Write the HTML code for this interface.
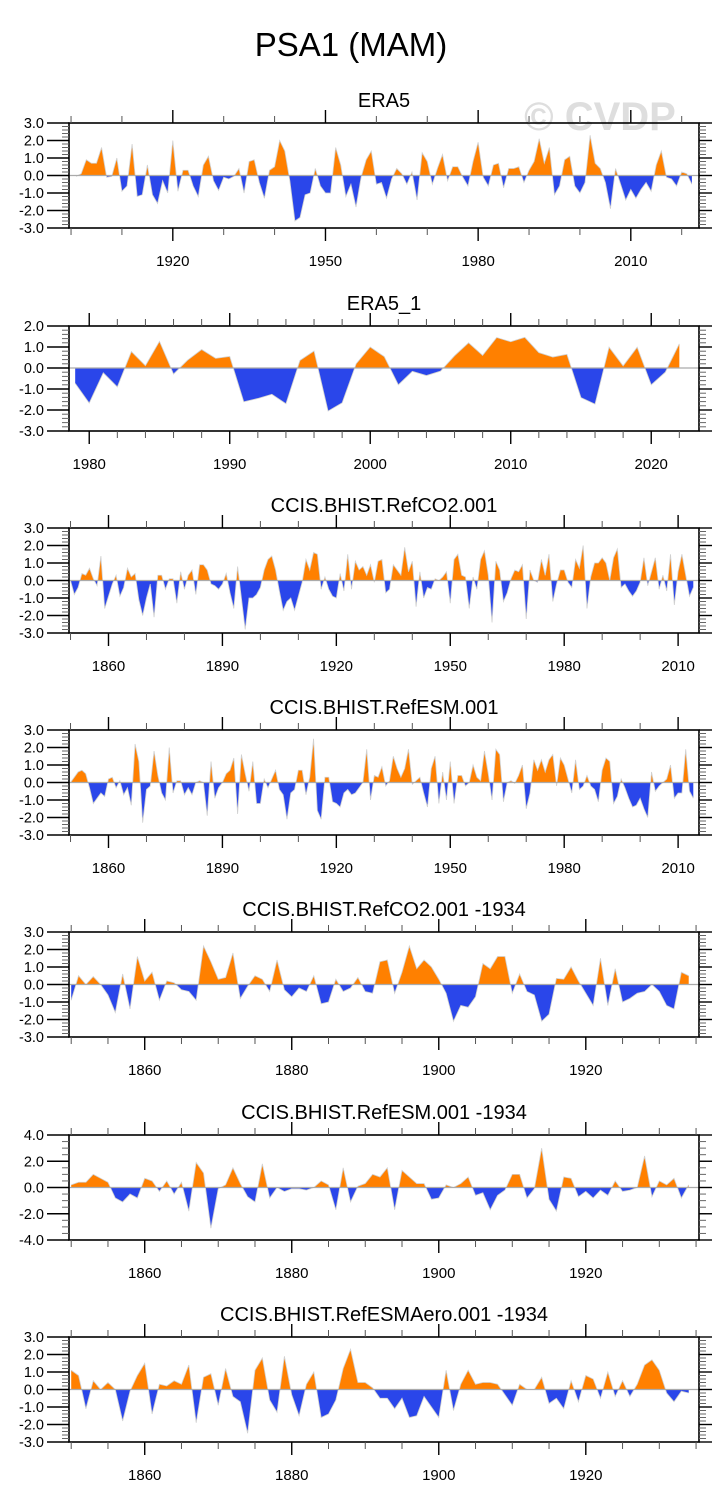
<!DOCTYPE html>
<html><head><meta charset="utf-8">
<style>
html,body{margin:0;padding:0;background:#fff;}
svg{display:block;font-family:"Liberation Sans",Arial,sans-serif;}
</style></head>
<body>
<svg id="chart" width="728" height="1510" viewBox="0 0 728 1510" xmlns="http://www.w3.org/2000/svg">
<text x="351" y="56" text-anchor="middle" font-size="33" fill="#000">PSA1 (MAM)</text>
<text x="600" y="130" text-anchor="middle" font-size="40" font-weight="bold" fill="#dedede">© CVDP</text>
</svg>
<script>
// ---- Panel 1: ERA5 (1901-2022)
const era5Start = 1901;
const era5Values = [-0.05,0.1,0.9,0.7,0.7,1.6,-0.1,-0.05,1.0,-0.9,-0.6,1.8,-1.2,-1.1,0.6,-1.1,-1.6,-0.3,-1.0,2.0,
-0.9,0.3,0.3,-0.6,-1.2,0.6,1.1,-0.3,-0.85,-0.1,-0.2,-0.05,0.4,-1.0,0.8,0.9,-0.4,-1.3,0.3,0.5,
2.0,1.4,-0.3,-2.6,-2.4,-1.1,-1.0,0.4,-0.6,-1.0,-1.0,1.6,0.6,-1.2,-0.5,-1.8,-0.1,0.9,1.4,-0.5,
-0.4,-1.3,-0.2,0.4,0.1,-0.5,0.2,-1.4,1.3,0.8,-0.5,0.4,1.2,-0.3,0.5,0.5,-0.1,-0.6,0.8,1.9,
-0.1,-0.6,0.6,0.7,-0.7,0.4,0.4,0.5,-0.4,0.3,0.8,2.1,0.7,1.6,-1.1,-0.6,0.9,1.1,-0.6,-1.0,
-0.4,2.3,0.7,0.4,-0.4,-1.9,0.4,-0.5,-1.4,-0.8,-1.3,-0.8,-0.4,-0.9,0.6,1.4,-0.1,-0.2,-0.6,0.2,
0.1,-0.5];
const era5XLabels = [1920,1950,1980,2010];
const era5YLabels = [-3,-2,-1,0,1,2,3];

// ---- Panel 2: ERA5_1 (1979-2022)
const era51Start = 1979;
const era51Values = [-0.73,-1.67,-0.23,-0.9,0.78,0.11,1.27,-0.29,0.37,0.88,0.46,0.55,-1.61,-1.45,-1.25,-1.7,0.36,0.81,-2.05,-1.66,
0.2,1.0,0.54,-0.8,-0.16,-0.36,-0.15,0.58,1.2,0.6,1.45,1.25,1.46,0.73,0.52,0.65,-1.41,-1.72,0.99,0.1,
0.99,-0.8,-0.2,1.15];
const era51XLabels = [1980,1990,2000,2010,2020];
const era51YLabels = [-3,-2,-1,0,1,2];

// ---- Panel 3: CCIS.BHIST.RefCO2.001 (1850-2014)
const co2Start = 1850;
const co2Values = [0.0,-0.8,-0.4,0.4,0.3,0.7,0.1,-0.3,1.4,-1.6,-0.9,-0.2,0.3,-0.9,-0.4,0.7,0.2,0.4,-1.1,-2.0,
-1.0,-0.2,-2.1,0.3,0.3,-0.5,0.1,0.1,-1.3,0.5,-0.5,0.3,0.6,-0.8,0.9,0.9,0.6,-0.2,-0.3,-0.5,
-0.2,0.4,-0.7,-1.6,0.8,-1.0,-2.8,-1.0,-1.0,-0.8,-0.4,0.6,1.2,1.4,0.6,-0.6,-1.7,-1.2,-1.0,-1.7,
-0.9,-0.1,1.2,0.6,1.6,1.5,-0.5,0.2,-0.5,-0.9,-1.0,0.4,-0.6,1.5,-0.5,1.1,0.6,0.8,0.3,0.9,
-0.1,1.1,1.2,-0.7,-0.5,0.9,0.6,0.3,1.9,0.5,1.1,-1.5,0.5,-1.0,-0.4,-0.5,0.1,0.0,0.2,0.5,
-1.3,1.2,1.5,0.3,0.2,-1.6,0.2,-0.5,1.2,1.7,0.3,-2.4,1.1,0.6,-1.2,-0.7,0.1,0.6,0.5,0.9,
-2.2,0.6,0.0,-0.1,1.2,0.3,1.5,-1.2,-0.2,0.6,0.6,-0.1,-0.4,1.2,0.7,2.0,-1.6,0.2,1.0,1.0,
1.3,1.0,0.0,1.3,1.8,-0.4,-0.2,-0.6,-0.9,-0.6,-0.1,1.3,-0.3,0.5,1.3,-0.5,0.3,-0.6,1.5,-1.4,
0.5,1.5,0.3,-0.9,-0.4];
const co2XLabels = [1860,1890,1920,1950,1980,2010];
const co2YLabels = [-3,-2,-1,0,1,2,3];

// ---- Panel 4: CCIS.BHIST.RefESM.001 (1850-2014)
const esmStart = 1850;
const esmValues = [0.0,0.3,0.6,0.7,0.5,-0.3,-1.2,-0.9,-0.6,-0.8,0.2,0.3,-0.3,0.1,-0.7,-0.3,-1.3,2.2,1.2,-2.3,
-0.4,-0.2,1.8,0.4,-0.6,-1.0,2.0,-0.6,0.1,0.1,-0.7,-0.3,-0.7,0.0,0.1,0.0,-1.9,1.2,-0.9,-0.3,
0.0,0.5,0.7,1.4,-1.8,1.6,0.5,-0.5,1.2,-1.2,-1.2,0.2,-0.3,0.2,0.7,-0.4,-0.7,-2.1,-0.6,-0.4,
0.7,0.7,-0.7,0.3,2.5,-1.6,-2.1,0.3,0.3,-1.1,-1.2,-1.4,-0.6,-0.4,-0.7,-0.6,-0.3,0.0,1.9,-1.0,
0.4,0.3,0.9,-0.2,0.1,1.5,0.8,0.3,0.8,1.9,-0.1,0.1,0.3,-0.6,-1.4,0.8,1.5,-1.2,0.6,-1.0,
1.2,-1.2,0.4,0.4,-0.2,0.0,1.0,0.3,0.1,1.8,0.5,-1.0,1.9,1.6,-1.1,0.0,0.1,-0.05,0.4,1.0,
-1.5,-0.6,1.3,0.7,1.3,0.6,1.3,1.6,-0.2,1.4,1.0,0.2,-0.6,1.3,-0.4,-0.2,0.4,-0.2,-0.4,-1.1,
0.7,1.4,1.2,-1.2,-0.8,0.2,-0.3,-0.9,-1.4,-1.3,-0.9,-1.5,-2.0,0.6,-0.5,-0.2,0.0,0.2,1.0,-0.9,
-0.6,-0.6,1.9,-0.5,-0.9];
const esmXLabels = [1860,1890,1920,1950,1980,2010];
const esmYLabels = [-3,-2,-1,0,1,2,3];

// ---- Panel 5: CCIS.BHIST.RefCO2.001 -1934 (1850-1934)
const co2bStart = 1850;
const co2bValues = [-0.9,0.5,0.0,0.45,0.0,-0.6,-1.6,0.6,-1.4,1.6,0.2,0.7,-0.9,0.2,0.1,-0.3,-0.4,-0.9,2.2,1.3,
0.3,0.4,1.8,-0.8,-0.1,0.5,0.3,-0.4,1.4,-0.3,-0.7,-0.2,-0.4,0.5,-1.1,-1.0,0.3,-0.4,-0.2,0.4,
-0.4,-0.5,1.3,1.4,-0.5,0.7,2.2,0.9,1.4,1.0,0.3,-0.5,-2.1,-1.2,-1.3,-0.7,1.2,0.9,1.6,1.6,
-0.5,0.6,-0.4,-0.6,-2.1,-1.7,0.35,0.3,1.0,0.2,-0.5,-1.2,1.5,-1.2,0.9,-1.0,-0.8,-0.5,-0.4,0.0,
-0.4,-1.2,-1.4,0.7,0.5];
const co2bXLabels = [1860,1880,1900,1920];
const co2bYLabels = [-3,-2,-1,0,1,2,3];

// ---- Panel 6: CCIS.BHIST.RefESM.001 -1934 (1850-1934)
const esmbStart = 1850;
const esmbValues = [0.2,0.4,0.4,1.0,0.7,0.4,-0.8,-1.1,-0.5,-0.8,0.7,0.5,-0.3,0.5,-0.5,0.4,-1.8,1.9,1.1,-3.1,
-0.1,0.2,1.5,0.3,-0.7,-1.1,1.8,-0.8,0.0,-0.3,-0.1,-0.1,-0.2,0.0,0.5,0.2,-1.7,1.5,-1.1,0.1,
0.3,1.0,0.8,1.5,-1.7,1.3,0.8,0.3,0.3,-0.9,-0.8,0.2,0.0,0.3,0.8,-0.6,-0.4,-1.7,-0.6,-0.2,
1.0,1.0,-0.8,-0.1,3.0,-0.9,-1.8,0.8,0.7,-0.7,-0.3,-0.8,-0.2,-0.6,0.5,-0.3,-0.2,0.0,2.4,-0.7,
0.5,0.2,0.7,-0.8,0.2];
const esmbXLabels = [1860,1880,1900,1920];
const esmbYLabels = [-4,-2,0,2,4];

// ---- Panel 7: CCIS.BHIST.RefESMAero.001 -1934 (1850-1934)
const aeroStart = 1850;
const aeroValues = [1.1,0.8,-1.1,0.5,0.0,0.4,0.0,-1.8,-0.1,0.8,1.5,-1.4,0.3,0.2,0.5,0.3,1.4,-1.9,0.7,0.9,
-0.9,1.2,-0.4,-0.7,-2.5,1.1,1.8,-0.6,-1.3,1.9,-0.3,-1.5,0.3,1.0,-1.6,-1.4,-0.6,1.2,2.3,0.4,
0.4,0.1,-0.5,-0.5,-1.1,-0.5,-1.6,-1.5,-0.4,-1.0,-1.6,1.1,-1.2,0.3,1.1,0.3,0.4,0.4,0.3,-0.3,
-0.9,0.3,0.0,0.0,0.7,-0.8,-0.5,-1.1,0.5,-0.7,0.8,0.6,-0.5,1.0,-0.4,0.5,-0.4,0.3,1.4,1.7,
1.1,-0.2,-0.7,-0.1,-0.2];
const aeroXLabels = [1860,1880,1900,1920];
const aeroYLabels = [-3,-2,-1,0,1,2,3];

const NS = 'http://www.w3.org/2000/svg';
const svg = document.getElementById('chart');
const BOX_L = 69, BOX_R = 699, BOX_H = 105;

function mk(tag, attrs, parent) {
  const e = document.createElementNS(NS, tag);
  for (const k in attrs) e.setAttribute(k, attrs[k]);
  (parent || svg).appendChild(e);
  return e;
}

let clipId = 0;
function drawPanel(p) {
  const g = mk('g', {});
  
  
  const top = p.top, bot = top + BOX_H;
  const sx = v => BOX_L + (v - p.xmin) / (p.xmax - p.xmin) * (BOX_R - BOX_L);
  const sy = v => bot - (v - p.ymin) / (p.ymax - p.ymin) * BOX_H;

  const t = mk('text', {x: (BOX_L + BOX_R) / 2, y: top - 16, 'text-anchor': 'middle', 'font-size': 20, fill: '#000'}, g);
  t.textContent = p.title;
  
  

  const y0 = sy(0);
  let d = 'M' + sx(p.start).toFixed(2) + ',' + y0.toFixed(2);
  let line = '';
  p.values.forEach((v, i) => {
    const X = sx(p.start + i).toFixed(2), Y = sy(v).toFixed(2);
    d += ' L' + X + ',' + Y;
    line += (i ? ' L' : 'M') + X + ',' + Y;
  });
  d += ' L' + sx(p.start + p.values.length - 1).toFixed(2) + ',' + y0.toFixed(2) + ' Z';

  const idA = 'ca' + (clipId++), idB = 'cb' + (clipId++);
  const defs = mk('defs', {}, g);
  const cA = mk('clipPath', {id: idA}, defs);
  mk('rect', {x: BOX_L, y: top, width: BOX_R - BOX_L, height: y0 - top}, cA);
  const cB = mk('clipPath', {id: idB}, defs);
  mk('rect', {x: BOX_L, y: y0, width: BOX_R - BOX_L, height: bot - y0}, cB);

  const pos = mk('path', {d: d, fill: '#ff8000', 'clip-path': 'url(#' + idA + ')'}, g);
  
  
  const neg = mk('path', {d: d, fill: '#2a46ea', 'clip-path': 'url(#' + idB + ')'}, g);
  
  
  const ln = mk('path', {d: line, fill: 'none', stroke: '#d0d0d0', 'stroke-width': 0.8}, g);
  
  
  const zl = mk('line', {x1: BOX_L, x2: BOX_R, y1: y0, y2: y0, stroke: '#aaa', 'stroke-width': 1.2}, g);
  
  

  const box = mk('rect', {x: BOX_L, y: top, width: BOX_R - BOX_L, height: BOX_H, fill: 'none', stroke: '#000', 'stroke-width': 1.6}, g);
  
  

  for (let v = p.ymin; v <= p.ymax + 1e-6; v += p.yMinor) {
    const Y = sy(v);
    mk('line', {x1: BOX_L - 7, x2: BOX_L, y1: Y, y2: Y, stroke: '#666', 'stroke-width': 1}, g);
    mk('line', {x1: BOX_R, x2: BOX_R + 7, y1: Y, y2: Y, stroke: '#666', 'stroke-width': 1}, g);
  }
  p.yLabels.forEach(v => {
    const Y = sy(v);
    mk('line', {x1: BOX_L - 22, x2: BOX_L, y1: Y, y2: Y, stroke: '#000', 'stroke-width': 1.4}, g);
    mk('line', {x1: BOX_R, x2: BOX_R + 13, y1: Y, y2: Y, stroke: '#000', 'stroke-width': 1.4}, g);
    const lb = mk('text', {x: 44, y: Y + 5, 'text-anchor': 'end', 'font-size': 14.5, fill: '#000'}, g);
    lb.textContent = v.toFixed(1);
    
    
  });

  const first = Math.ceil(p.xmin / p.xMinor) * p.xMinor;
  for (let v = first; v <= p.xmax; v += p.xMinor) {
    const X = sx(v);
    const major = p.xLabels.indexOf(v) >= 0;
    const L = major ? 13 : 7;
    mk('line', {x1: X, x2: X, y1: bot, y2: bot + L, stroke: major ? '#000' : '#555', 'stroke-width': major ? 1.4 : 1}, g);
    mk('line', {x1: X, x2: X, y1: top - L, y2: top, stroke: major ? '#000' : '#555', 'stroke-width': major ? 1.4 : 1}, g);
  }
  p.xLabels.forEach(v => {
    const lb = mk('text', {x: sx(v), y: bot + 38, 'text-anchor': 'middle', 'font-size': 15, fill: '#000'}, g);
    lb.textContent = String(v);
    
    
  });
}

drawPanel({name:'panel-era5', title:'ERA5', top:123, xmin:1899.6, xmax:2023.4, ymin:-3, ymax:3, yMinor:0.2,
  start:era5Start, values:era5Values, xLabels:era5XLabels, yLabels:era5YLabels, xMinor:10});
drawPanel({name:'panel-era5-1', title:'ERA5_1', top:326, xmin:1978.56, xmax:2023.4, ymin:-3, ymax:2, yMinor:0.2,
  start:era51Start, values:era51Values, xLabels:era51XLabels, yLabels:era51YLabels, xMinor:2});
drawPanel({name:'panel-refco2', title:'CCIS.BHIST.RefCO2.001', top:528, xmin:1849.6, xmax:2015.5, ymin:-3, ymax:3, yMinor:0.2,
  start:co2Start, values:co2Values, xLabels:co2XLabels, yLabels:co2YLabels, xMinor:10});
drawPanel({name:'panel-refesm', title:'CCIS.BHIST.RefESM.001', top:730, xmin:1849.6, xmax:2015.5, ymin:-3, ymax:3, yMinor:0.2,
  start:esmStart, values:esmValues, xLabels:esmXLabels, yLabels:esmYLabels, xMinor:10});
drawPanel({name:'panel-refco2-1934', title:'CCIS.BHIST.RefCO2.001 -1934', top:932, xmin:1849.7, xmax:1935.4, ymin:-3, ymax:3, yMinor:0.2,
  start:co2bStart, values:co2bValues, xLabels:co2bXLabels, yLabels:co2bYLabels, xMinor:5});
drawPanel({name:'panel-refesm-1934', title:'CCIS.BHIST.RefESM.001 -1934', top:1135, xmin:1849.7, xmax:1935.4, ymin:-4, ymax:4, yMinor:0.5,
  start:esmbStart, values:esmbValues, xLabels:esmbXLabels, yLabels:esmbYLabels, xMinor:5});
drawPanel({name:'panel-refesmaero-1934', title:'CCIS.BHIST.RefESMAero.001 -1934', top:1337, xmin:1849.7, xmax:1935.4, ymin:-3, ymax:3, yMinor:0.2,
  start:aeroStart, values:aeroValues, xLabels:aeroXLabels, yLabels:aeroYLabels, xMinor:5});
</script>
</body></html>
